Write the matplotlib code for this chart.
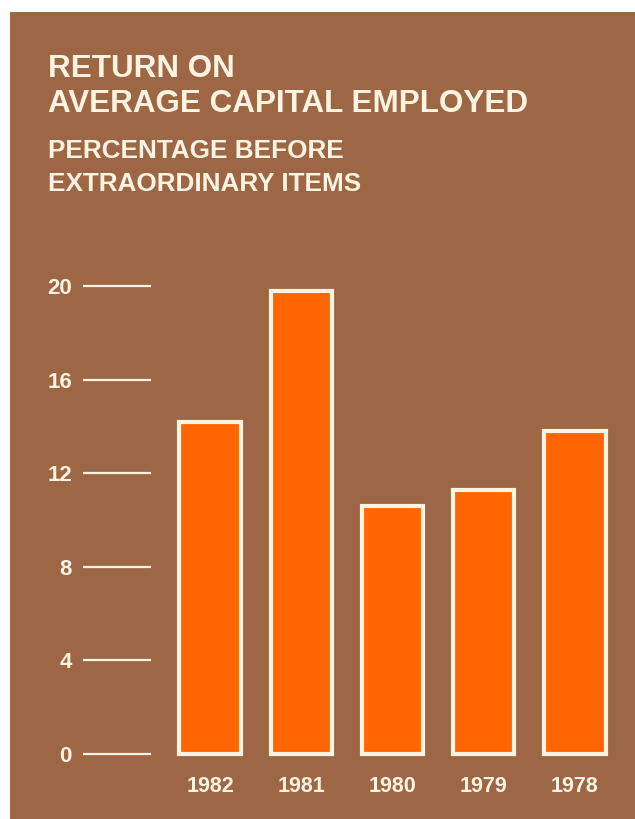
import matplotlib.pyplot as plt
from matplotlib.patches import Rectangle

# Return on average capital employed, % before extraordinary items
years = ['1982', '1981', '1980', '1979', '1978']
returns = [14.2, 19.8, 10.6, 11.3, 13.8]
yticks = [0, 4, 8, 12, 16, 20]

brown = '#9d6746'
orange = '#ff6600'
cream = '#fff4e2'

plt.rcParams['font.family'] = ['Liberation Sans', 'DejaVu Sans']
plt.rcParams['font.weight'] = 'bold'

fig = plt.figure(figsize=(6.35, 8.19), dpi=100)
fig.patch.set_facecolor('white')
# brown card, leaving a thin white margin at top and left
fig.patches.append(Rectangle((10 / 635, 0), 1, 1 - 12 / 819, transform=fig.transFigure,
                             facecolor=brown, edgecolor='none', zorder=-10))

# axes placed in pixel terms: 0 at y=754, 20 at y=286, left edge at x=83
ax = fig.add_axes([83 / 635, 65 / 819, 552 / 635, 468 / 819])
ax.set_facecolor('none')
x = list(range(len(years)))
ax.bar(x, returns, width=0.67, color=orange, edgecolor=cream, linewidth=3, clip_on=False)

ax.set_xlim(-1.392, 4.658)
ax.set_ylim(0, 20)
ax.set_yticks(yticks)
ax.set_yticklabels([str(t) for t in yticks])
ax.set_xticks(x)
ax.set_xticklabels(years)
for s in ax.spines.values():
    s.set_visible(False)

ax.tick_params(axis='y', direction='in', length=49, width=1.6, color=cream,
               pad=8, labelsize=16, labelcolor=cream)
ax.tick_params(axis='x', length=0, pad=16, labelsize=15.5, labelcolor=cream)

fig.text(48 / 635, 1 - 77 / 819, 'RETURN ON', color=cream, fontsize=22.6,
         va='baseline', ha='left')
fig.text(48 / 635, 1 - 112 / 819, 'AVERAGE CAPITAL EMPLOYED', color=cream, fontsize=22.6,
         va='baseline', ha='left')
fig.text(48 / 635, 1 - 158 / 819, 'PERCENTAGE BEFORE', color=cream, fontsize=18.8,
         va='baseline', ha='left')
fig.text(48 / 635, 1 - 191 / 819, 'EXTRAORDINARY ITEMS', color=cream, fontsize=18.8,
         va='baseline', ha='left')

fig.savefig('out.png', dpi=100, facecolor=fig.get_facecolor())
